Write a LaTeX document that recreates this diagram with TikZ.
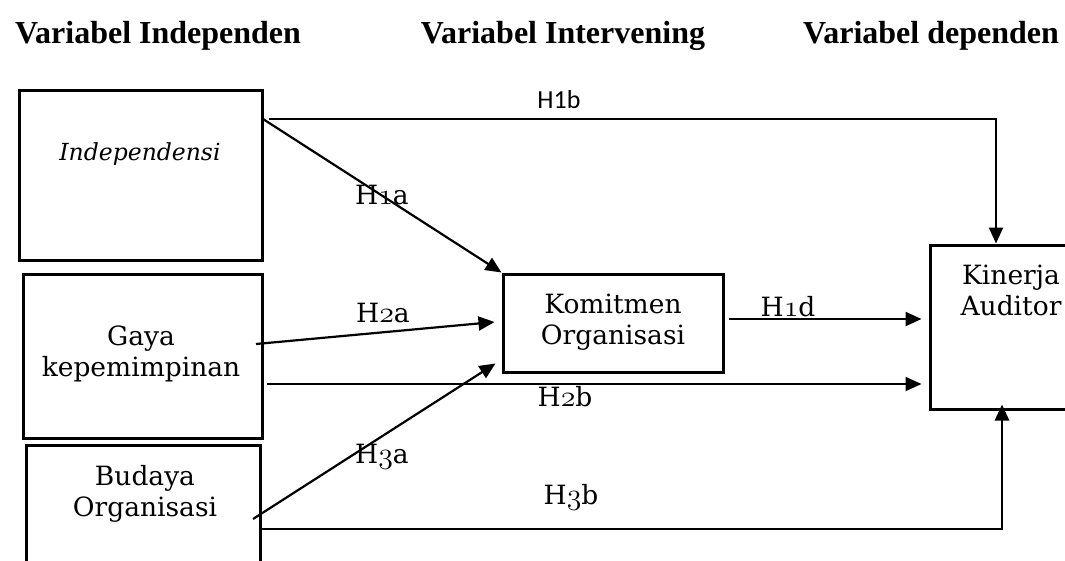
\documentclass[tikz,border=0pt]{standalone}
\usepackage{fontspec}
\setmainfont{DejaVu Serif}
\newfontfamily\titlefont{Liberation Serif}
\newfontfamily\labsans{Carlito}
\usetikzlibrary{arrows.meta}
\newcommand{\osd}[1]{\scalebox{1.2}{$\mathnormal{#1}$}}
\begin{document}
\begin{tikzpicture}[x=1pt,y=-1pt,
  box/.style={draw, line width=3pt, inner sep=0pt},
  txt/.style={align=center, font=\fontsize{26.5}{31}\selectfont, inner sep=0pt},
  ttl/.style={font=\titlefont\bfseries\fontsize{32}{36}\selectfont, anchor=base, inner sep=0pt},
  conn/.style={line width=2.2pt},
  arr/.style={conn, -{Triangle[length=16pt,width=14pt]}},
  lab/.style={font=\fontsize{26.5}{31}\selectfont, inner sep=0pt},
  sanslab/.style={font=\labsans\fontsize{26}{30}\selectfont, inner sep=0pt}]
\fill[white] (0,0) rectangle (1065,560);
\clip (0,0) rectangle (1065,560);

% titles
\node[ttl] (T1) at (158,43) {Variabel Independen};
\node[ttl] (T2) at (563,43) {Variabel Intervening};
\node[ttl] (T3) at (931,43) {Variabel dependen};

% boxes
\node[box, minimum width=243pt, minimum height=170pt] (ind) at (140.5,175) {};
\node[box, minimum width=239pt, minimum height=164pt] (gaya) at (142.5,356) {};
\node[box, minimum width=234pt, minimum height=155pt] (bud) at (143,522.5) {};
\node[box, minimum width=220pt, minimum height=98pt] (kom) at (613,323) {};
\node[box, minimum width=164pt, minimum height=164pt] (kin) at (1012,327) {};

% box texts
\node[txt, font=\fontsize{23.5}{31}\selectfont] (tind) at (140,154) {\itshape Independensi};
\node[txt] (tgaya) at (141,354) {Gaya\\kepemimpinan};
\node[txt] (tkom) at (613,322) {Komitmen\\Organisasi};
\node[txt] (tbud) at (145,494) {Budaya\\Organisasi};
\node[txt] (tkin) at (1011,290) {Kinerja\\Auditor};

% connector start points
\coordinate (s1a) at (263,119);
\coordinate (s1b) at (269,119);
\coordinate (s2a) at (256,344);
\coordinate (s3a) at (253,519);
\coordinate (d1) at (729,319);
\coordinate (s2b) at (267,384);
\coordinate (s3b) at (261,529);

% connectors
\draw[arr] (s1b) -| ([xshift=-16pt]kin.north);
\draw[arr] (s1a) -- (kom.north west);
\draw[arr] (s2a) -- ([xshift=-7pt,yshift=1pt]kom.west);
\draw[arr] (s3a) -- ([xshift=-6pt,yshift=10pt]kom.south west);
\draw[arr, shorten >=7pt] (d1) -- (d1 -| kin.west);
\draw[arr, line width=1.8pt, shorten >=7pt] (s2b) -- (s2b -| kin.west);
\draw[arr, line width=2.8pt] (s3b) -| ([xshift=-10pt,yshift=6pt]kin.south);

% labels
\node[sanslab] (l1b) at (559,100) {H1b};
\node[lab] (l1a) at (382,195) {H\osd{1}a};
\node[lab] (l2a) at (383,313) {H\osd{2}a};
\node[lab] (l1d) at (788,307) {H\osd{1}d};
\node[lab] (l2b) at (565,397) {H\osd{2}b};
\node[lab] (l3a) at (382,457) {H\osd{3}a};
\node[lab] (l3b) at (571,497) {H\osd{3}b};
\end{tikzpicture}
\end{document}
